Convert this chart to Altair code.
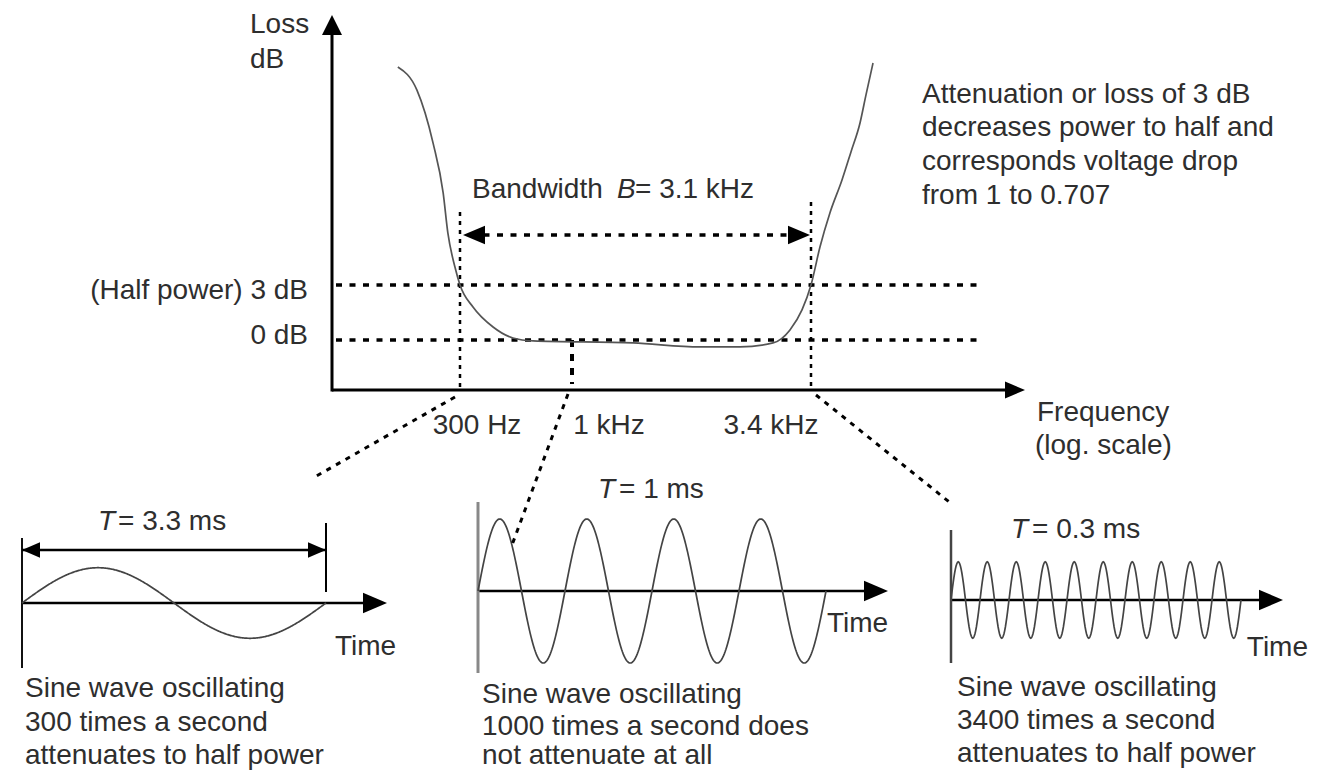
import math
import altair as alt
import pandas as pd

# ---------------- data ----------------
freq_hz = [153, 188, 224, 250, 263, 284, 300, 345, 428, 530, 658, 1367, 1926,
           2364, 2799, 3053, 3247, 3400, 3557, 3740, 3975, 4159, 4353, 4486, 4648]
loss_db = [14.89, 13.64, 10.75, 8.02, 5.84, 3.98, 3.0, 1.80, 0.71, 0.11, -0.05,
           -0.16, -0.38, -0.38, -0.16, 0.55, 1.64, 3.0, 5.07, 6.93, 8.73, 10.26,
           11.84, 13.37, 15.11]

band_edges_hz = [300, 3400]
center_hz = 1000
ref_levels_db = [3, 0]
ref_labels = ["(Half power) 3 dB", "0 dB"]
tick_labels = ["300 Hz", "1 kHz", "3.4 kHz"]
bandwidth_words = ["Bandwidth", "B", "= 3.1 kHz"]
axis_labels = ["Loss", "dB", "Frequency", "(log. scale)"]
note_lines = ["Attenuation or loss of 3 dB", "decreases power to half and",
              "corresponds voltage drop", "from 1 to 0.707"]

wave_freq_hz = [300, 1000, 3400]
wave_period_ms = [3.3, 1.0, 0.3]
wave_cycles = [1, 4, 10]
wave_amplitude = [0.49, 1.0, 0.53]
period_labels = ["= 3.3 ms", "= 1 ms", "= 0.3 ms"]
wave_notes = [
    ["Sine wave oscillating", "300 times a second", "attenuates to half power"],
    ["Sine wave oscillating", "1000 times a second does", "not attenuate at all"],
    ["Sine wave oscillating", "3400 times a second", "attenuates to half power"],
]

# ---------------- layout / style ----------------
OFF = 8
FONT = "Liberation Sans"
FS = 28
TXT = "#2e2e2e"
RIGHT = "M0,0L-2,-0.85L-2,0.85Z"
LEFT = "M0,0L2,-0.85L2,0.85Z"
UP = "M0,0L-1,2L1,2Z"

# frequency-response panel: piecewise log scale (schematic axis)
F_ANCH = [75, 300, 1000, 3400, 10000]
F_PX = [332, 460, 572, 811, 1025]
FX = alt.Scale(type="log", domain=F_ANCH, range=[p - OFF for p in F_PX], nice=False)
FY = alt.Scale(domain=[0, 3], range=[340 - OFF, 285 - OFF], nice=False, zero=False)


def f_at(xpx):
    for i in range(len(F_PX) - 1):
        if xpx <= F_PX[i + 1] or i == len(F_PX) - 2:
            a, b = F_PX[i], F_PX[i + 1]
            la, lb = math.log10(F_ANCH[i]), math.log10(F_ANCH[i + 1])
            return 10 ** (la + (xpx - a) / (b - a) * (lb - la))


def db_at(ypx):
    return (340 - ypx) * 3 / 55


def rules(rows, xs, ys, width, dash=None, color="black"):
    df = pd.DataFrame(rows, columns=["a1", "a2", "b1", "b2"])
    kw = dict(color=color, strokeWidth=width)
    if dash:
        kw["strokeDash"] = dash
    return alt.Chart(df).mark_rule(**kw).encode(
        x=alt.X("a1:Q", scale=xs, axis=None), x2="a2:Q",
        y=alt.Y("b1:Q", scale=ys, axis=None), y2="b2:Q")


def heads(rows, xs, ys, shape, size):
    df = pd.DataFrame(rows, columns=["a", "b"])
    return alt.Chart(df).mark_point(shape=shape, size=size, filled=True, opacity=1,
                                    color="black", strokeWidth=0).encode(
        x=alt.X("a:Q", scale=xs, axis=None), y=alt.Y("b:Q", scale=ys, axis=None))


AX = db_at(390)
curve = alt.Chart(pd.DataFrame({"f": freq_hz, "db": loss_db})).mark_line(
    interpolate="monotone", color="#555555", strokeWidth=1.7).encode(
    x=alt.X("f:Q", scale=FX, axis=None), y=alt.Y("db:Q", scale=FY, axis=None))

freq_group = alt.layer(
    rules([[f_at(336), f_at(978), lv, lv] for lv in ref_levels_db], FX, FY, 3.5, [6, 7.5]),
    rules([[f_at(470), f_at(800), db_at(235), db_at(235)]], FX, FY, 3.5, [6, 7.5]),
    rules([[band_edges_hz[0]] * 2 + [db_at(212), AX],
           [band_edges_hz[1]] * 2 + [db_at(202), AX]], FX, FY, 2.5, [4, 5]),
    rules([[center_hz, center_hz, 0, db_at(384)]], FX, FY, 4, [7, 7]),
    curve,
    rules([[75, f_at(1008), AX, AX], [75, 75, db_at(391.5), db_at(33)]], FX, FY, 3),
    heads([[75, db_at(15)]], FX, FY, UP, 400),
    heads([[f_at(1025), AX]], FX, FY, RIGHT, 400),
    heads([[f_at(463), db_at(235)]], FX, FY, LEFT, 484),
    heads([[f_at(810), db_at(235)]], FX, FY, RIGHT, 484),
)

# ---------------- sine-wave panels ----------------
X0 = [22, 478, 951]
PXMS = [304 / 3.3, 87.0, 29 / 0.3]
Y0 = [603, 591, 600]
AMPPX = 72
TIP = [387, 888, 1283]
VLINE = [(538, 668), (502, 673), (530, 663)]
VCOL = ["#111111", "#888888", "#444444"]
VW = [2, 3, 2.5]

panels = []
for i in range(3):
    PXS = alt.Scale(domain=[0, 1], range=[X0[i] - OFF, X0[i] - OFF + PXMS[i]], nice=False, zero=False)
    PYS = alt.Scale(domain=[0, 1], range=[Y0[i] - OFF, Y0[i] - OFF - AMPPX], nice=False, zero=False)

    def t_at(xpx, i=i):
        return (xpx - X0[i]) / PXMS[i]

    def a_at(ypx, i=i):
        return (Y0[i] - ypx) / AMPPX

    P = wave_period_ms[i]
    N = 400
    wave = alt.Chart(alt.sequence(0, N + 1, 1, as_="i")).transform_calculate(
        t=f"datum.i * {wave_cycles[i] * P / N}",
        v=f"{wave_amplitude[i]} * sin(2 * PI * datum.t / {P})",
    ).mark_line(color="#444444", strokeWidth=1.7).encode(
        x=alt.X("t:Q", scale=PXS, axis=None), y=alt.Y("v:Q", scale=PYS, axis=None))

    layers = [
        rules([[0, t_at(TIP[i] - 12), 0, 0]], PXS, PYS, 2.5),
        rules([[0, 0, a_at(VLINE[i][0]), a_at(VLINE[i][1])]], PXS, PYS, VW[i], color=VCOL[i]),
        wave,
        heads([[t_at(TIP[i]), 0]], PXS, PYS, RIGHT, 576),
    ]
    if i == 0:
        layers += [
            rules([[P, P, a_at(523), a_at(592)]], PXS, PYS, 2),
            rules([[0, P, a_at(550), a_at(550)]], PXS, PYS, 2.5),
            heads([[0, a_at(550)]], PXS, PYS, LEFT, 324),
            heads([[P, a_at(550)]], PXS, PYS, RIGHT, 324),
        ]
    panels.append(alt.layer(*layers))

# ---------------- annotations (page coordinates) ----------------
CX = alt.Scale(domain=[0, 1317], range=[-OFF, 1317 - OFF], nice=False, zero=False)
CY = alt.Scale(domain=[0, 779], range=[-OFF, 779 - OFF], nice=False, zero=False)

left_txt, right_txt, center_txt, ital_left, ital_right = [], [], [], [], []
left_txt += [(axis_labels[0], 250, 25), (axis_labels[1], 250, 60),
             (axis_labels[2], 1037, 413), (axis_labels[3], 1035, 446)]
for line, yy in zip(note_lines, [95, 128, 162, 196]):
    left_txt.append((line, 922, yy))
left_txt += [(bandwidth_words[0], 472, 190), (bandwidth_words[2], 635, 190)]
ital_left.append((bandwidth_words[1], 617, 190))
for lab, x, y in zip(ref_labels, [308, 308], [291, 336]):
    right_txt.append((lab, x, y))
for lab, x in zip(tick_labels, [477, 609, 771]):
    center_txt.append((lab, x, 426))
T_POS = [(115, 118, 522), (615, 619, 490), (1028, 1032, 530)]
NOTE_X = [25, 482, 957]
NOTE_Y = [[689, 723, 756], [695, 727, 756], [688, 721, 754]]
for i in range(3):
    ital_right.append(("T", T_POS[i][0], T_POS[i][2]))
    left_txt.append((period_labels[i], T_POS[i][1], T_POS[i][2]))
    for line, yy in zip(wave_notes[i], NOTE_Y[i]):
        left_txt.append((line, NOTE_X[i], yy))
left_txt += [("Time", 335, 647), ("Time", 827, 624)]
right_txt.append(("Time", 1308, 648))


def text_layer(rows, align, italic=False):
    df = pd.DataFrame(rows, columns=["text", "x", "y"])
    return alt.Chart(df).mark_text(align=align, baseline="middle", font=FONT, fontSize=FS,
                                   color=TXT, fontStyle="italic" if italic else "normal").encode(
        x=alt.X("x:Q", scale=CX, axis=None), y=alt.Y("y:Q", scale=CY, axis=None), text="text:N")


connectors = rules([[455, 313, 397, 478], [568, 512, 394, 545], [816, 953, 395, 505]],
                   CX, CY, 3, [5, 6])

canvas = alt.layer(
    connectors,
    text_layer(left_txt, "left"),
    text_layer(right_txt, "right"),
    text_layer(center_txt, "center"),
    text_layer(ital_left, "left", True),
    text_layer(ital_right, "right", True),
)

chart = alt.layer(freq_group, *panels, canvas).resolve_scale(
    x="independent", y="independent"
).properties(
    width=1317 - 2 * OFF, height=779 - 2 * OFF,
    autosize=alt.AutoSizeParams(type="none"), padding=0,
).configure_view(stroke=None)

chart.save("out.html", embed_options={"renderer": "svg", "actions": False})
